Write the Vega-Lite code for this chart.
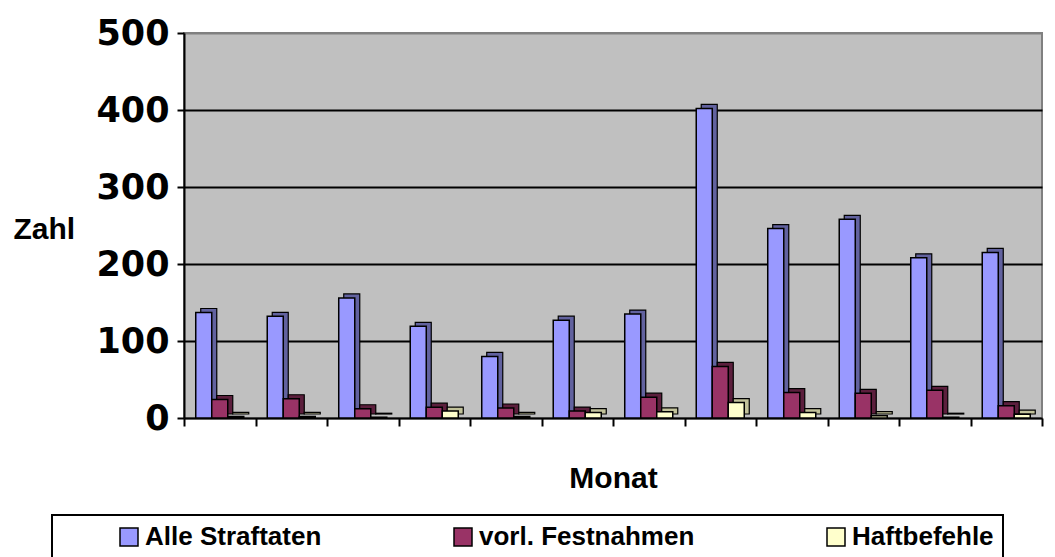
{
  "$schema": "https://vega.github.io/schema/vega-lite/v6.json",
  "autosize": {"type": "none"},
  "width": 858,
  "height": 385,
  "padding": {"left": 184, "top": 33, "right": 13, "bottom": 139},
  "background": "white",
  "config": {
    "view": {"fill": "#C0C0C0", "stroke": "#808080", "strokeWidth": 2},
    "font": "Liberation Sans",
    "legend": {
      "orient": "none",
      "legendX": -132,
      "legendY": 482,
      "direction": "horizontal",
      "columns": 3,
      "titleOrient": "left",
      "titleFontSize": 1,
      "titlePadding": 55,
      "padding": 9,
      "strokeColor": "black",
      "strokeWidth": 2,
      "fillColor": "white",
      "symbolType": "square",
      "symbolSize": 324,
      "symbolStrokeColor": "black",
      "symbolStrokeWidth": 1.5,
      "symbolOpacity": 1,
      "labelFont": "Liberation Sans",
      "labelFontSize": 26,
      "labelFontWeight": "bold",
      "labelColor": "black",
      "labelOffset": 3,
      "labelLimit": 400,
      "columnPadding": 128
    }
  },
  "data": {
    "values": [
      {"month": 1, "series": "Alle Straftaten", "value": 137},
      {"month": 1, "series": "vorl. Festnahmen", "value": 24},
      {"month": 1, "series": "Haftbefehle", "value": 2},
      {"month": 2, "series": "Alle Straftaten", "value": 132},
      {"month": 2, "series": "vorl. Festnahmen", "value": 25},
      {"month": 2, "series": "Haftbefehle", "value": 2},
      {"month": 3, "series": "Alle Straftaten", "value": 156},
      {"month": 3, "series": "vorl. Festnahmen", "value": 12},
      {"month": 3, "series": "Haftbefehle", "value": 1},
      {"month": 4, "series": "Alle Straftaten", "value": 119},
      {"month": 4, "series": "vorl. Festnahmen", "value": 14},
      {"month": 4, "series": "Haftbefehle", "value": 9},
      {"month": 5, "series": "Alle Straftaten", "value": 80},
      {"month": 5, "series": "vorl. Festnahmen", "value": 13},
      {"month": 5, "series": "Haftbefehle", "value": 2},
      {"month": 6, "series": "Alle Straftaten", "value": 127},
      {"month": 6, "series": "vorl. Festnahmen", "value": 9},
      {"month": 6, "series": "Haftbefehle", "value": 7},
      {"month": 7, "series": "Alle Straftaten", "value": 135},
      {"month": 7, "series": "vorl. Festnahmen", "value": 27},
      {"month": 7, "series": "Haftbefehle", "value": 8},
      {"month": 8, "series": "Alle Straftaten", "value": 402},
      {"month": 8, "series": "vorl. Festnahmen", "value": 67},
      {"month": 8, "series": "Haftbefehle", "value": 20},
      {"month": 9, "series": "Alle Straftaten", "value": 246},
      {"month": 9, "series": "vorl. Festnahmen", "value": 33},
      {"month": 9, "series": "Haftbefehle", "value": 7},
      {"month": 10, "series": "Alle Straftaten", "value": 258},
      {"month": 10, "series": "vorl. Festnahmen", "value": 32},
      {"month": 10, "series": "Haftbefehle", "value": 3},
      {"month": 11, "series": "Alle Straftaten", "value": 208},
      {"month": 11, "series": "vorl. Festnahmen", "value": 36},
      {"month": 11, "series": "Haftbefehle", "value": 1},
      {"month": 12, "series": "Alle Straftaten", "value": 215},
      {"month": 12, "series": "vorl. Festnahmen", "value": 16},
      {"month": 12, "series": "Haftbefehle", "value": 5}
    ]
  },
  "encoding": {
    "x": {
      "field": "month",
      "type": "ordinal",
      "scale": {"paddingInner": 0, "paddingOuter": 0},
      "axis": {
        "title": "Monat",
        "labels": false,
        "ticks": true,
        "tickBand": "extent",
        "tickSize": 8,
        "tickColor": "black",
        "tickWidth": 2,
        "domain": true,
        "domainColor": "black",
        "domainWidth": 2,
        "grid": false,
        "titleFont": "Liberation Sans",
        "titleFontSize": 30,
        "titleFontWeight": "bold",
        "titleColor": "black",
        "titleBaseline": "alphabetic",
        "titleY": 69
      }
    },
    "y": {
      "field": "value",
      "type": "quantitative",
      "scale": {"domain": [0, 500], "nice": false},
      "axis": {
        "title": "Zahl",
        "values": [0, 100, 200, 300, 400, 500],
        "titleAngle": 0,
        "titleAlign": "left",
        "titleBaseline": "middle",
        "titleX": -171,
        "titleY": 196,
        "titleFont": "Liberation Sans",
        "titleFontSize": 30,
        "titleFontWeight": "bold",
        "titleColor": "black",
        "labelFont": "DejaVu Sans",
        "labelFontSize": 35,
        "labelFontWeight": "bold",
        "labelColor": "black",
        "labelPadding": 8,
        "tickSize": 7,
        "tickColor": "black",
        "tickWidth": 2,
        "domainColor": "black",
        "domainWidth": 2,
        "grid": true,
        "gridColor": {"condition": {"test": "datum.value == 500 || datum.value == 0", "value": "#808080"}, "value": "black"},
        "gridWidth": 2
      }
    }
  },
  "layer": [
    {
      "transform": [{"filter": "datum.series == 'Alle Straftaten'"}],
      "mark": {"type": "bar", "width": {"band": 0.224}, "xOffset": -11, "yOffset": -4, "fill": "#62629F", "stroke": "black", "strokeWidth": 1.2}
    },
    {
      "transform": [{"filter": "datum.series == 'Alle Straftaten'"}],
      "mark": {"type": "bar", "width": {"band": 0.224}, "xOffset": -16, "stroke": "black", "strokeWidth": 1.5},
      "encoding": {
        "color": {"field": "series", "type": "nominal", "title": " ",
          "scale": {"domain": ["Alle Straftaten", "vorl. Festnahmen", "Haftbefehle"], "range": ["#9999FF", "#993366", "#FFFFCC"]}}
      }
    },
    {
      "transform": [{"filter": "datum.series == 'vorl. Festnahmen'"}],
      "mark": {"type": "bar", "width": {"band": 0.224}, "xOffset": 5, "yOffset": -4, "fill": "#5C1F3D", "stroke": "black", "strokeWidth": 1.2}
    },
    {
      "transform": [{"filter": "datum.series == 'vorl. Festnahmen'"}],
      "mark": {"type": "bar", "width": {"band": 0.224}, "xOffset": 0, "stroke": "black", "strokeWidth": 1.5},
      "encoding": {
        "color": {"field": "series", "type": "nominal", "title": " ",
          "scale": {"domain": ["Alle Straftaten", "vorl. Festnahmen", "Haftbefehle"], "range": ["#9999FF", "#993366", "#FFFFCC"]}}
      }
    },
    {
      "transform": [{"filter": "datum.series == 'Haftbefehle'"}],
      "mark": {"type": "bar", "width": {"band": 0.224}, "xOffset": 21, "yOffset": -4, "fill": "#C2C29A", "stroke": "black", "strokeWidth": 1.2}
    },
    {
      "transform": [{"filter": "datum.series == 'Haftbefehle'"}],
      "mark": {"type": "bar", "width": {"band": 0.224}, "xOffset": 16, "stroke": "black", "strokeWidth": 1.5},
      "encoding": {
        "color": {"field": "series", "type": "nominal", "title": " ",
          "scale": {"domain": ["Alle Straftaten", "vorl. Festnahmen", "Haftbefehle"], "range": ["#9999FF", "#993366", "#FFFFCC"]}}
      }
    }
  ]
}
